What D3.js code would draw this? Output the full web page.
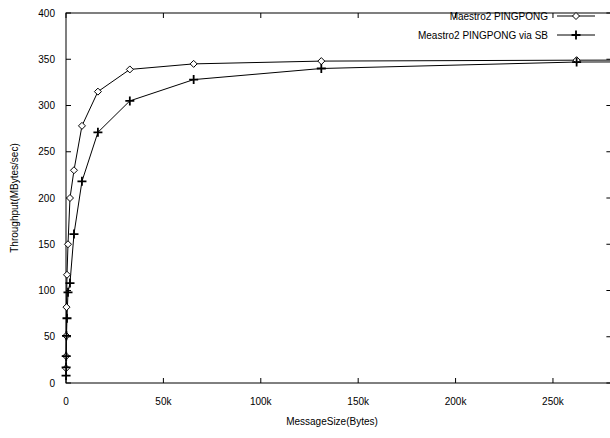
<!DOCTYPE html>
<html><head><meta charset="utf-8">
<script src="https://cdn.jsdelivr.net/npm/d3@7"></script>
<style>body{margin:0;background:#fff}svg{display:block}text{font-family:"Liberation Sans",Arial,sans-serif;fill:#000}</style>
</head><body>
<svg id="c" width="610" height="438"></svg>
<script>
const sizes = [32,64,128,256,512,1024,2048,4096,8192,16384,32768,65536,131072,262144,524288];
const pingpong = [16,29,51,82,117,150,200,230,278,315,339,345,348,349,350];
const pingpongSB = [8,17,29,51,70,98,108,161,218,271,305,328,340,347,348];
const seriesNames = ["Maestro2 PINGPONG","Meastro2 PINGPONG via SB"];
const xTicks = [0,50000,100000,150000,200000,250000];
const xTickLabels = ["0","50k","100k","150k","200k","250k"];
const yTicks = [0,50,100,150,200,250,300,350,400];

const svg = d3.select("#c");
const L=66, R=611.4, T=13, B=383;
const x = d3.scaleLinear().domain([0,280000]).range([L,R]);
const y = d3.scaleLinear().domain([0,400]).range([B,T]);

svg.append("clipPath").attr("id","clip").append("rect").attr("x",L-6).attr("y",T-6).attr("width",R-L+12).attr("height",B-T+12);

svg.append("rect").attr("x",L).attr("y",T).attr("width",R-L).attr("height",B-T)
  .attr("fill","none").attr("stroke","#000").attr("stroke-width",1);

const tl=5;
const g = svg.append("g");
xTicks.forEach((v,i)=>{
  g.append("line").attr("x1",x(v)).attr("x2",x(v)).attr("y1",B).attr("y2",B-tl).attr("stroke","#000");
  g.append("line").attr("x1",x(v)).attr("x2",x(v)).attr("y1",T).attr("y2",T+tl).attr("stroke","#000");
  g.append("text").attr("x",x(v)).attr("y",B+22).attr("text-anchor","middle").attr("font-size",10).text(xTickLabels[i]);
});
yTicks.forEach(v=>{
  g.append("line").attr("x1",L).attr("x2",L+tl).attr("y1",y(v)).attr("y2",y(v)).attr("stroke","#000");
  g.append("line").attr("x1",R).attr("x2",R-tl).attr("y1",y(v)).attr("y2",y(v)).attr("stroke","#000");
  g.append("text").attr("x",L-11).attr("y",y(v)+3.5).attr("text-anchor","end").attr("font-size",10).text(v);
});

svg.append("text").attr("x",332).attr("y",425).attr("text-anchor","middle").attr("font-size",10).text("MessageSize(Bytes)");
svg.append("text").attr("transform",`translate(18,${(T+B)/2}) rotate(-90)`).attr("text-anchor","middle").attr("font-size",10).text("Throughput(MBytes/sec)");

const line = d3.line().x(d=>x(d[0])).y(d=>y(d[1]));
const data1 = sizes.map((s,i)=>[s,pingpong[i]]);
const data2 = sizes.map((s,i)=>[s,pingpongSB[i]]);
const pg = svg.append("g").attr("clip-path","url(#clip)");

function diamond(sel,cx,cy){
  sel.append("path").attr("d",`M${cx-3.5},${cy}L${cx},${cy-3.5}L${cx+3.5},${cy}L${cx},${cy+3.5}Z`)
    .attr("fill","#fff").attr("stroke","#000").attr("stroke-width",1);
}
function plus(sel,cx,cy){
  sel.append("path").attr("d",`M${cx-4.5},${cy}H${cx+4.5}M${cx},${cy-4.5}V${cy+4.5}`)
    .attr("stroke","#000").attr("stroke-width",1.8);
}
pg.append("path").datum(data1).attr("d",line).attr("fill","none").attr("stroke","#000").attr("stroke-width",1);
pg.append("path").datum(data2).attr("d",line).attr("fill","none").attr("stroke","#000").attr("stroke-width",1);
data1.forEach(d=>{ if(x(d[0])<=R) diamond(pg,x(d[0]),y(d[1])); });
data2.forEach(d=>{ if(x(d[0])<=R) plus(pg,x(d[0]),y(d[1])); });

const lg = svg.append("g");
const ly=[16,35];
[0,1].forEach(i=>{
  lg.append("text").attr("x",548).attr("y",ly[i]+3.5).attr("text-anchor","end").attr("font-size",10).text(seriesNames[i]);
  lg.append("line").attr("x1",557).attr("x2",595).attr("y1",ly[i]).attr("y2",ly[i]).attr("stroke","#000");
});
diamond(lg,576,ly[0]);
plus(lg,576,ly[1]);
</script>
</body></html>
